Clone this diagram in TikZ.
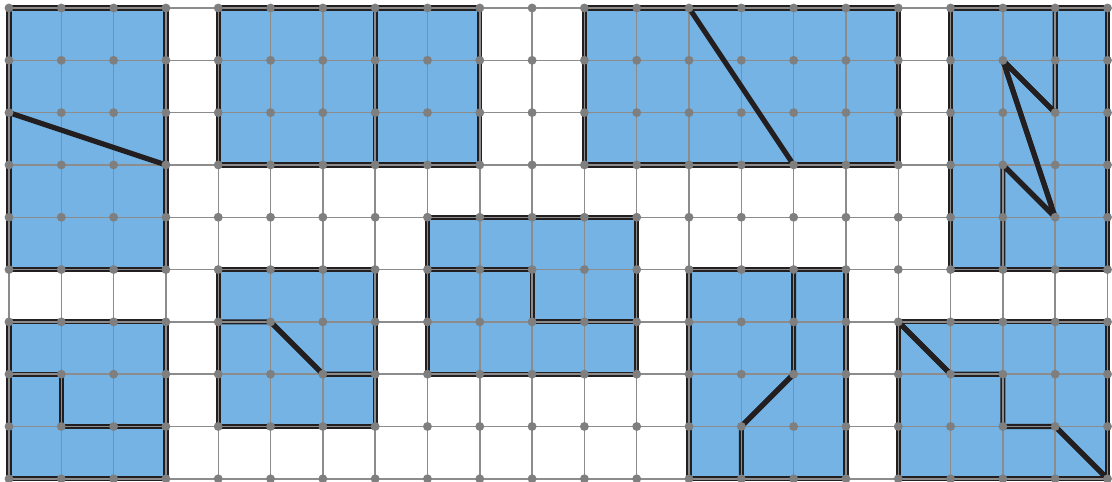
\documentclass[tikz,border=0pt]{standalone}
\begin{document}
\begin{tikzpicture}[x=1cm,y=1cm,
  cutline/.style={draw=cutblack,line width=2.8pt,line join=round,line cap=round},
  gridline/.style={draw=gridgray,line width=0.8pt}]
\definecolor{shapeblue}{HTML}{74B3E3}
\definecolor{cutblack}{HTML}{231F20}
\definecolor{gridgray}{HTML}{8C8C8C}
\definecolor{dotgray}{HTML}{7F7F7F}
\useasboundingbox (-0.172,-0.048) rectangle (21.086,9.153);
% fills
\foreach \a/\b in {{0,4}/{3,9},{4,6}/{9,9},{11,6}/{17,9},{18,4}/{21,9},{0,0}/{3,3},{4,1}/{7,4},{8,2}/{12,5},{13,0}/{16,4},{17,0}/{21,3}}
  \fill[shapeblue] (\a) rectangle (\b);
% borders and cuts
\foreach \a/\b in {{0,4}/{3,9},{4,6}/{9,9},{11,6}/{17,9},{18,4}/{21,9},{0,0}/{3,3},{4,1}/{7,4},{8,2}/{12,5},{13,0}/{16,4},{17,0}/{21,3}}
  \draw[cutline] (\a) rectangle (\b);
\draw[cutline] (7,6) -- (7,9);
\draw[cutline] (20,9) -- (20,7) -- (19,8) -- (20,5) -- (19,6) -- (19,4);
\draw[cutline] (0,2) -- (1,2) -- (1,1) -- (3,1);
\draw[cutline] (4,3) -- (5,3) -- (6,2) -- (7,2);
\draw[cutline] (8,4) -- (10,4) -- (10,3) -- (12,3);
\draw[cutline] (15,4) -- (15,2) -- (14,1) -- (14,0);
\draw[cutline] (17,3) -- (18,2) -- (19,2) -- (19,1) -- (20,1) -- (21,0);
% grid
\foreach \i in {0,...,21} \draw[gridline] (\i,0) -- (\i,9);
\foreach \j in {0,...,9} \draw[gridline] (0,\j) -- (21,\j);
% diagonals on top
\draw[cutline] (0,7) -- (3,6);
\draw[cutline] (13,9) -- (15,6);
\draw[cutline] (20,7) -- (19,8) -- (20,5) -- (19,6);
\draw[cutline] (5,3) -- (6,2);
\draw[cutline] (15,2) -- (14,1);
\draw[cutline] (17,3) -- (18,2);
\draw[cutline] (20,1) -- (21,0);
% dots
\foreach \i in {0,...,21} \foreach \j in {0,...,9} \fill[dotgray] (\i,\j) circle (0.085);
\end{tikzpicture}
\end{document}
